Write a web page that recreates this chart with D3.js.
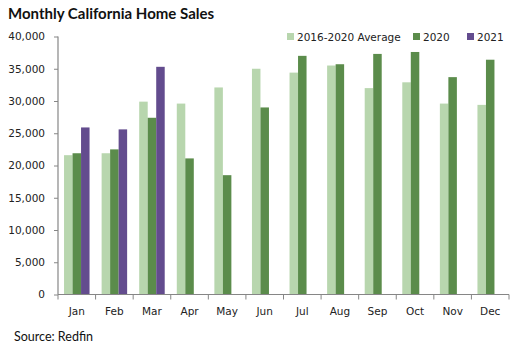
<!DOCTYPE html>
<html><head><meta charset="utf-8">
<script src="https://cdn.jsdelivr.net/npm/d3@7"></script>
<style>body{margin:0;background:#fff}svg{display:block}</style>
</head><body>
<svg id="c" width="519" height="350"></svg>
<script>
const months = ["Jan","Feb","Mar","Apr","May","Jun","Jul","Aug","Sep","Oct","Nov","Dec"];
const seriesNames = ["2016-2020 Average","2020","2021"];
const avg1620 = [21600,21900,29900,29600,32100,35000,34400,35500,32000,32900,29600,29400];
const y2020 = [21900,22500,27400,21100,18500,29000,37000,35700,37300,37600,33700,36400];
const y2021 = [25900,25600,35300,null,null,null,null,null,null,null,null,null];
const yTicks = [0,5000,10000,15000,20000,25000,30000,35000,40000];
const colors = ["#b8d6ae","#5b8c4b","#634c8e"];
const seriesValues = [avg1620, y2020, y2021];

const svg = d3.select("#c");
const x = d3.scaleBand().domain(months).range([58,509]).paddingInner(0).paddingOuter(0);
const xi = d3.scaleBand().domain(seriesNames).range([0,x.bandwidth()]).paddingInner(0).paddingOuter(0.71);
const y = d3.scaleLinear().domain([0,40000]).range([294.5,36.5]);

// bars
seriesNames.forEach((s,si)=>{
  svg.append("g").selectAll("rect")
    .data(months.map((m,i)=>({m, v:seriesValues[si][i]})).filter(d=>d.v!=null))
    .join("rect")
    .attr("x",d=>x(d.m)+xi(s))
    .attr("width",xi.bandwidth())
    .attr("y",d=>y(d.v))
    .attr("height",d=>y(0)-y(d.v))
    .attr("fill",colors[si]);
});

// y axis
const ya = svg.append("g").attr("transform","translate(58,0)")
  .call(d3.axisLeft(y).tickValues(yTicks).tickSize(4).tickPadding(9).tickFormat(d3.format(",")));
// x axis
const xa = svg.append("g").attr("transform","translate(0,294.5)")
  .call(d3.axisBottom(x).tickSize(0).tickPadding(13));
xa.selectAll(".tick line").remove();
xa.append("g").selectAll("line")
  .data(months.map(m=>x(m)).concat([x.range()[1]]))
  .join("line").attr("x1",d=>d).attr("x2",d=>d).attr("y1",0).attr("y2",5)
  .attr("stroke","#868686");
[ya,xa].forEach(a=>{
  a.select(".domain").attr("stroke","#868686").attr("stroke-width",1.2);
  a.selectAll(".tick line").attr("stroke","#868686");
  a.selectAll("text").attr("fill","#222").style("font-family","'DejaVu Sans', Verdana, sans-serif").style("font-size","10.5px");
});
ya.select(".domain").attr("d","M0,"+y(40000)+"V"+y(0));
xa.select(".domain").attr("d","M"+x.range()[0]+",0H"+x.range()[1]);

// title
svg.append("text").attr("x",8).attr("y",19).text("Monthly California Home Sales")
  .style("font-family","Lato, 'Open Sans', sans-serif").style("font-weight","bold").style("font-size","15px").attr("fill","#111");
// source
svg.append("text").attr("x",14).attr("y",341).text("Source: Redfin")
  .style("font-family","Lato, 'Open Sans', sans-serif").style("font-size","12.5px").attr("fill","#111");

// legend
const legX = [287,413,467];
const lg = svg.append("g");
seriesNames.forEach((s,i)=>{
  lg.append("rect").attr("x",legX[i]).attr("y",33).attr("width",7).attr("height",7).attr("fill",colors[i]);
  lg.append("text").attr("x",legX[i]+10).attr("y",41).text(s)
    .style("font-family","'DejaVu Sans', Verdana, sans-serif").style("font-size","10.5px").attr("fill","#222");
});
</script>
</body></html>
